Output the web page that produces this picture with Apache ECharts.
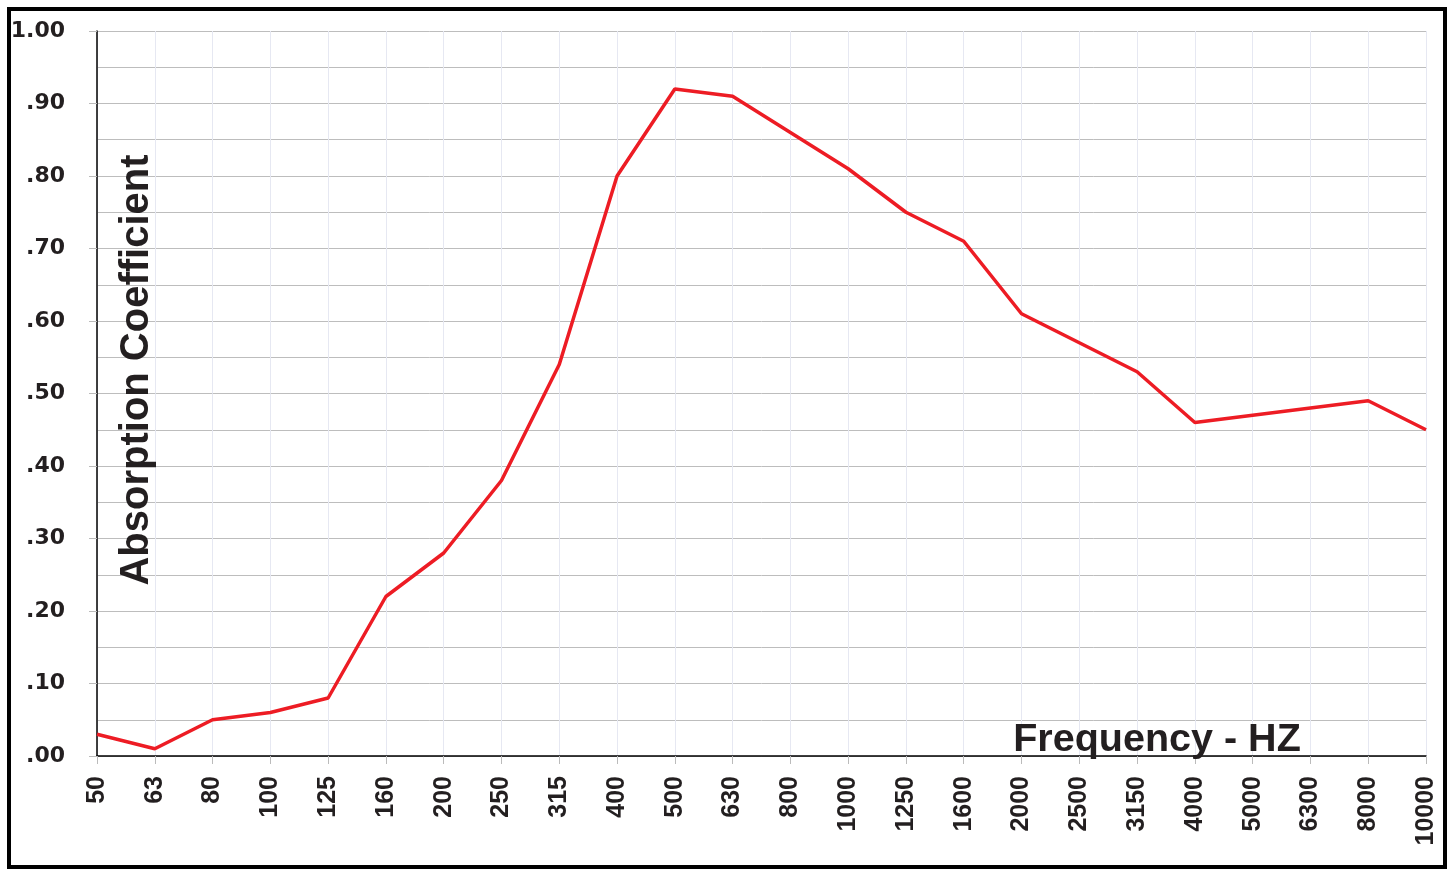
<!DOCTYPE html>
<html>
<head>
<meta charset="utf-8">
<script src="https://cdn.jsdelivr.net/npm/echarts@6/dist/echarts.min.js"></script>
<style>
  html, body { margin: 0; padding: 0; background: #fff; }
  #chart { width: 1454px; height: 869px; }
</style>
</head>
<body>
<div id="chart"></div>
<script>
// frequency bands (Hz)
const frequencies = ['50', '63', '80', '100', '125', '160', '200', '250', '315', '400', '500', '630',
  '800', '1000', '1250', '1600', '2000', '2500', '3150', '4000', '5000', '6300', '8000', '10000'];
// absorption coefficient per band
const absorption = [0.03, 0.01, 0.05, 0.06, 0.08, 0.22, 0.28, 0.38, 0.54, 0.80, 0.92, 0.91,
  0.86, 0.81, 0.75, 0.71, 0.61, 0.57, 0.53, 0.46, 0.47, 0.48, 0.49, 0.45];

const textColor = '#231f20';
const fontFamily = '"Liberation Sans", Arial, sans-serif';

const chart = echarts.init(document.getElementById('chart'));
const option = {
  animation: false,
  backgroundColor: '#fff',
  grid: { left: 97, right: 28, top: 31, bottom: 113 },
  xAxis: {
    type: 'category',
    data: frequencies,
    boundaryGap: false,
    axisLine: { lineStyle: { color: '#000', width: 1.5 } },
    axisTick: { show: true, length: 8, lineStyle: { color: '#bbb' } },
    axisLabel: {
      rotate: 90,
      margin: 20,
      interval: 0,
      color: textColor,
      fontSize: 25,
      fontWeight: 'bold',
      fontFamily: fontFamily
    },
    splitLine: { show: true, interval: 0, lineStyle: { color: '#e6e8f2', width: 1 } }
  },
  yAxis: {
    type: 'value',
    min: 0,
    max: 1,
    interval: 0.1,
    axisLine: { show: true, lineStyle: { color: '#000', width: 1.5 } },
    axisTick: { show: true, length: 8, lineStyle: { color: '#bbb' } },
    axisLabel: {
      margin: 32,
      color: textColor,
      fontSize: 22,
      fontWeight: 'bold',
      fontFamily: '"DejaVu Sans", sans-serif',
      formatter: v => v >= 1 ? v.toFixed(2) : v.toFixed(2).replace(/^0/, '')
    },
    splitLine: { show: true, lineStyle: { color: '#bdbdbd', width: 1 } },
    minorTick: { show: false, splitNumber: 2 },
    minorSplitLine: { show: true, lineStyle: { color: '#bdbdbd', width: 1 } }
  },
  series: [
    {
      type: 'line',
      data: absorption,
      symbol: 'none',
      lineStyle: { color: '#ed1c24', width: 3.5 },
      z: 5
    }
  ],
  graphic: [
    {
      type: 'text',
      x: 137,
      y: 370,
      rotation: Math.PI / 2,
      style: {
        text: 'Absorption Coefficient',
        fill: textColor,
        font: 'bold 40px ' + fontFamily,
        align: 'center',
        verticalAlign: 'middle'
      },
      z: 10
    },
    {
      type: 'text',
      x: 1157,
      y: 740,
      style: {
        text: 'Frequency - HZ',
        fill: textColor,
        font: 'bold 39.5px ' + fontFamily,
        align: 'center',
        verticalAlign: 'middle'
      },
      z: 10
    },
    {
      type: 'rect',
      shape: { x: 9, y: 9, width: 1436, height: 858 },
      style: { fill: 'none', stroke: '#000', lineWidth: 4 },
      z: 10
    }
  ]
};
chart.setOption(option);
</script>
</body>
</html>
